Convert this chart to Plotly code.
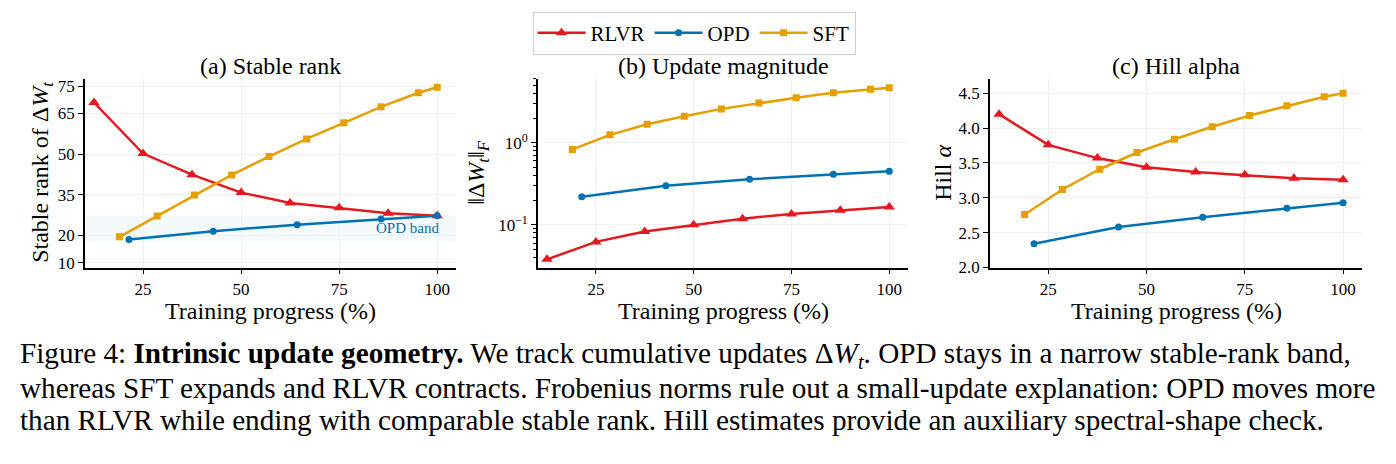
import plotly.graph_objects as go

# ---------------- data ----------------
X_RLVR = [12.5, 25, 37.5, 50, 62.5, 75, 87.5, 100]
X_OPD = [21.4, 42.9, 64.3, 85.7, 100]
X_SFT = [19.0, 28.6, 38.1, 47.6, 57.1, 66.7, 76.2, 85.7, 95.2, 100]

RANK_RLVR = [69.0, 50.2, 42.4, 35.8, 32.0, 30.2, 28.2, 27.3]
RANK_OPD = [18.5, 21.6, 24.0, 26.1, 27.3]
RANK_SFT = [19.5, 27.2, 34.9, 42.3, 49.1, 55.6, 61.5, 67.4, 72.6, 74.6]
OPD_BAND = [17.9, 27.4]

NORM_RLVR = [0.038, 0.062, 0.083, 0.100, 0.119, 0.136, 0.151, 0.165]
NORM_OPD = [0.22, 0.30, 0.36, 0.415, 0.45]
NORM_SFT = [0.83, 1.25, 1.68, 2.11, 2.59, 3.05, 3.53, 4.08, 4.48, 4.68]

HILL_RLVR = [4.20, 3.76, 3.57, 3.44, 3.37, 3.33, 3.28, 3.26]
HILL_OPD = [2.34, 2.58, 2.72, 2.85, 2.93]
HILL_SFT = [2.76, 3.12, 3.41, 3.65, 3.84, 4.02, 4.18, 4.32, 4.45, 4.50]

X_TICKS = [25, 50, 75, 100]
RANK_TICKS = [10, 20, 35, 50, 65, 75]
NORM_TICKS = [0.1, 1]
NORM_TICK_TEXT = ["10<sup>\u22121</sup>", "10<sup>0</sup>"]
NORM_MINOR = [0.04, 0.05, 0.06, 0.07, 0.08, 0.09, 0.2, 0.3, 0.4, 0.5, 0.6, 0.7,
              0.8, 0.9, 2, 3, 4, 5, 6]
HILL_TICKS = [2.0, 2.5, 3.0, 3.5, 4.0, 4.5]
HILL_TICK_TEXT = ["2.0", "2.5", "3.0", "3.5", "4.0", "4.5"]

SERIES = ["RLVR", "OPD", "SFT"]
COLORS = {"RLVR": "#E3191F", "OPD": "#0072B2", "SFT": "#E69F00"}
SYMBOLS = {"RLVR": "triangle-up", "OPD": "circle", "SFT": "square"}
MSIZE = {"RLVR": 10, "OPD": 7, "SFT": 7}

FONT = "Liberation Serif"
W, H = 1396, 464

fig = go.Figure()

panels = [
    ("x", "y", {"RLVR": (X_RLVR, RANK_RLVR), "OPD": (X_OPD, RANK_OPD), "SFT": (X_SFT, RANK_SFT)}),
    ("x2", "y2", {"RLVR": (X_RLVR, NORM_RLVR), "OPD": (X_OPD, NORM_OPD), "SFT": (X_SFT, NORM_SFT)}),
    ("x3", "y3", {"RLVR": (X_RLVR, HILL_RLVR), "OPD": (X_OPD, HILL_OPD), "SFT": (X_SFT, HILL_SFT)}),
]

for i, (xa, ya, data) in enumerate(panels):
    for s in SERIES:
        xs, ys = data[s]
        fig.add_trace(go.Scatter(
            x=xs, y=ys, xaxis=xa, yaxis=ya, name=s, mode="lines+markers",
            line=dict(color=COLORS[s], width=2.5),
            marker=dict(symbol=SYMBOLS[s], size=MSIZE[s], color=COLORS[s]),
            showlegend=(i == 0), legendgroup=s,
        ))

# OPD band in panel (a)
fig.add_shape(type="rect", xref="x domain", yref="y", x0=0, x1=1,
              y0=OPD_BAND[0], y1=OPD_BAND[1], fillcolor="rgba(0,114,178,0.045)",
              line=dict(width=0), layer="below")

doms = [(85 / W, 456 / W), (538 / W, 908 / W), (990 / W, 1362 / W)]
ydom = (1 - 273 / H, 1 - 79.5 / H)

axis_common = dict(
    showline=True, linecolor="black", linewidth=1.6, ticks="outside", ticklen=5,
    tickwidth=1.3, tickcolor="black", showgrid=True, gridcolor="#F0F0F0", gridwidth=0.8,
    zeroline=False, tickfont=dict(family=FONT, size=17, color="black"), mirror=False,
)

layout_axes = {}
for i, (x0, x1) in enumerate(doms):
    n = "" if i == 0 else str(i + 1)
    layout_axes["xaxis" + n] = dict(axis_common, domain=[x0, x1], range=[10.2, 104.8],
                                    tickvals=X_TICKS, anchor="y" + n)
layout_axes["yaxis"] = dict(axis_common, domain=list(ydom), range=[8.2, 77.8],
                            tickvals=RANK_TICKS, anchor="x")
layout_axes["yaxis2"] = dict(axis_common, domain=list(ydom), type="log", range=[-1.52, 0.782],
                             tickvals=NORM_TICKS, ticktext=NORM_TICK_TEXT, anchor="x2",
                             minor=dict(tickvals=NORM_MINOR, ticks="outside", ticklen=3,
                                        tickwidth=1, tickcolor="black", showgrid=False))
layout_axes["yaxis3"] = dict(axis_common, domain=list(ydom), range=[2.0, 4.71],
                             tickvals=HILL_TICKS, ticktext=HILL_TICK_TEXT, anchor="x3")

annotations = []
titles = ["(a) Stable rank", "(b) Update magnitude", "(c) Hill alpha"]
ytitles = ["Stable rank of \u0394<i>W</i><sub><i>t</i></sub>",
           "\u2016\u0394<i>W</i><sub><i>t</i></sub>\u2016<sub><i>F</i></sub>",
           "Hill <i>\u03b1</i>"]
ytitle_x = [42, 478, 943]
for i, (x0, x1) in enumerate(doms):
    cx = (x0 + x1) / 2
    annotations.append(dict(text=titles[i], x=cx, y=1 - 67 / H, xref="paper", yref="paper",
                            showarrow=False, xanchor="center", yanchor="middle",
                            font=dict(family=FONT, size=24, color="black")))
    annotations.append(dict(text="Training progress (%)", x=cx, y=1 - 318 / H, xref="paper",
                            yref="paper", showarrow=False, xanchor="center", yanchor="middle",
                            font=dict(family=FONT, size=24, color="black")))
    annotations.append(dict(text=ytitles[i], x=ytitle_x[i] / W, y=1 - 176 / H, xref="paper",
                            yref="paper", showarrow=False, xanchor="center", yanchor="middle",
                            textangle=-90, font=dict(family=FONT, size=24, color="black")))

annotations.append(dict(text="OPD band", x=101, y=22.8, xref="x", yref="y", showarrow=False,
                        xanchor="right", yanchor="middle",
                        font=dict(family=FONT, size=15, color=COLORS["OPD"])))

caption = [
    "Figure 4: <b>Intrinsic update geometry.</b> We track cumulative updates \u0394<i>W</i><sub><i>t</i></sub>. "
    "OPD stays in a narrow stable-rank band,",
    "whereas SFT expands and RLVR contracts. Frobenius norms rule out a small-update explanation: "
    "OPD moves more",
    "than RLVR while ending with comparable stable rank. Hill estimates provide an auxiliary "
    "spectral-shape check.",
]
cap_y = [363, 396, 429]
for line, yy in zip(caption, cap_y):
    annotations.append(dict(text=line, x=18 / W, y=1 - yy / H, xref="paper", yref="paper",
                            showarrow=False, xanchor="left", yanchor="middle",
                            font=dict(family=FONT, size=29.2, color="black")))

fig.update_layout(
    width=W, height=H, margin=dict(l=0, r=0, t=0, b=0),
    plot_bgcolor="white", paper_bgcolor="white",
    font=dict(family=FONT, color="black"),
    legend=dict(orientation="h", x=694 / W, xanchor="center", y=1 - 33 / H, yanchor="middle",
                bordercolor="#D0D0D0", borderwidth=1, bgcolor="white",
                font=dict(family=FONT, size=21, color="black"), itemwidth=48,
                tracegroupgap=0),
    annotations=annotations,
    **layout_axes,
)

fig.write_html("out.html")
